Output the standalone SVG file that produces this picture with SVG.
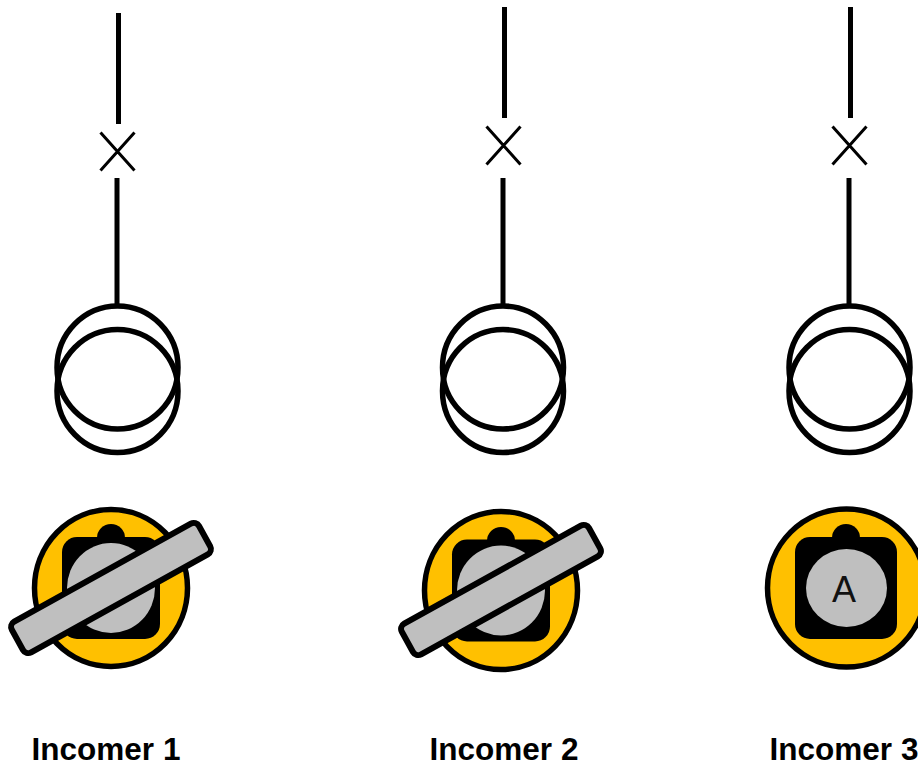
<svg xmlns="http://www.w3.org/2000/svg" width="918" height="766" viewBox="0 0 918 766">
<style>
.w{fill:none;stroke:#000;stroke-width:5}
.x{fill:none;stroke:#000;stroke-width:3}
.c{fill:none;stroke:#000;stroke-width:5.500}
.dial{fill:#ffc000;stroke:#000;stroke-width:5.500}
.bar{fill:#bfbfbf;stroke:#000;stroke-width:6}
.knob{fill:#bfbfbf}
.l{font-family:"Liberation Sans",Arial,sans-serif;font-weight:700;font-size:31.500px;text-anchor:middle;fill:#000}
.a{font-family:"Liberation Sans",Arial,sans-serif;font-size:36px;text-anchor:middle;fill:#111}
</style>
<rect width="918" height="766" fill="#fff"/>
<g id="connectors">
<path class="w" d="M118.500 13V124M117 178V304"/>
<path class="w" d="M504.500 7V118M503 178V304"/>
<path class="w" d="M850.500 7V118M849 178V304"/>
</g>
<g id="breaker-1"><path class="x" d="M100.500 132.500L134.500 170.500M134.500 132.500L100.500 170.500"/></g>
<g id="breaker-2"><path class="x" d="M486.500 126.500L520.500 164.500M520.500 126.500L486.500 164.500"/></g>
<g id="breaker-3"><path class="x" d="M832.500 126.500L866.500 164.500M866.500 126.500L832.500 164.500"/></g>
<g id="transformer-1"><ellipse class="c" cx="117.500" cy="367.500" rx="60.500" ry="61.500"/><ellipse class="c" cx="117.500" cy="391" rx="60.500" ry="61.500"/></g>
<g id="transformer-2"><ellipse class="c" cx="503" cy="367.500" rx="60.500" ry="61.500"/><ellipse class="c" cx="503" cy="391" rx="60.500" ry="61.500"/></g>
<g id="transformer-3"><ellipse class="c" cx="849.500" cy="367.500" rx="60.500" ry="61.500"/><ellipse class="c" cx="849.500" cy="391" rx="60.500" ry="61.500"/></g>
<g id="switch-1">
<ellipse class="dial" cx="111" cy="588" rx="76.500" ry="78.500"/>
<circle cx="111" cy="538" r="14"/>
<rect x="62" y="537" width="98" height="102" rx="15"/>
<ellipse class="knob" cx="111" cy="588" rx="44" ry="45"/>
<rect class="bar" x="4" y="570.500" width="214" height="35" rx="6" transform="rotate(-29 111 588)"/>
</g>
<g id="switch-2">
<ellipse class="dial" cx="501" cy="590.500" rx="76.500" ry="79"/>
<circle cx="501" cy="541" r="14"/>
<rect x="452" y="539.500" width="98" height="102" rx="15"/>
<ellipse class="knob" cx="501" cy="590.500" rx="44" ry="45"/>
<rect class="bar" x="394" y="572.500" width="214" height="35" rx="6" transform="rotate(-29 501 590)"/>
</g>
<g id="switch-3">
<circle class="dial" cx="846.500" cy="588" r="79"/>
<circle cx="846" cy="538" r="14"/>
<rect x="795" y="537" width="102" height="102" rx="15"/>
<ellipse class="knob" cx="846.500" cy="588" rx="40.500" ry="39"/>
<text class="a" x="844" y="602">A</text>
</g>
<g id="labels">
<text class="l" x="106" y="760">Incomer 1</text>
<text class="l" x="504" y="760">Incomer 2</text>
<text class="l" x="844" y="760">Incomer 3</text>
</g>
</svg>
